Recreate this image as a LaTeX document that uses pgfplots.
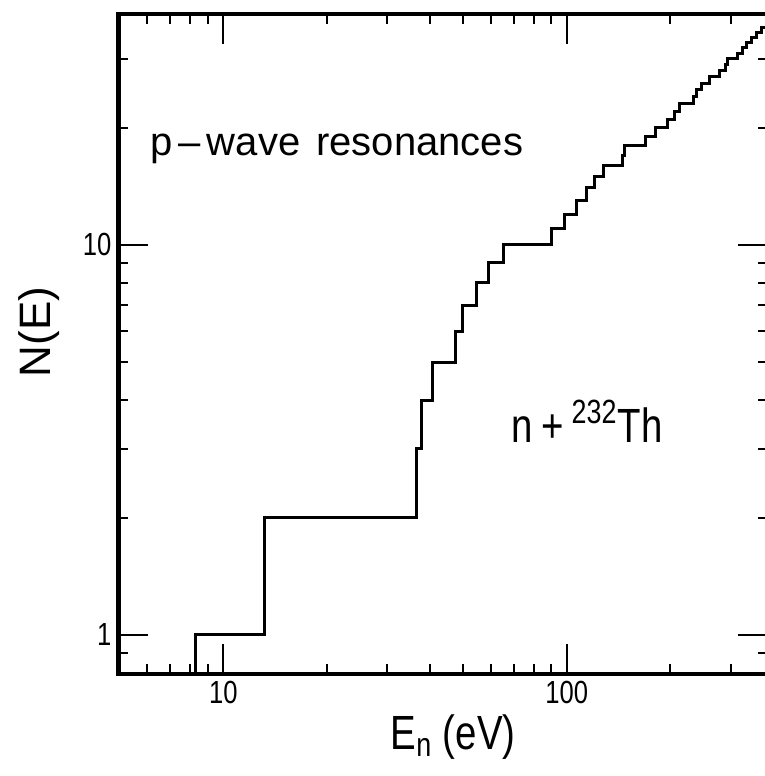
\documentclass[border=0pt]{standalone}
\usepackage{fontspec}
\setmainfont{Liberation Sans}
\newfontfamily\nf[FakeStretch=0.8]{Liberation Sans}
\usepackage{pgfplots}
\pgfplotsset{compat=1.18}
\usetikzlibrary{calc}
\begin{document}
\begin{tikzpicture}
\useasboundingbox (-59.25pt,-51pt) rectangle (323.25pt,337pt);
\begin{axis}[
  xmode=log, ymode=log,
  scale only axis, width=324.5pt, height=330pt,
  xmin=4.95, xmax=384, ymin=0.794, ymax=39.1,
  axis line style={line width=2.2pt},
  xtick={10,100}, xticklabels={10,100},
  ytick={1,10}, yticklabels={1,10},
  minor xtick={6,7,8,9,20,30,40,50,60,70,80,90,200,300},
  minor ytick={0.9,2,3,4,5,6,7,8,9,20,30},
  tick style={line width=1pt, black},
  major tick length=15pt, minor tick length=5pt,
  tick align=inside,
  ticklabel style={font=\nf\fontsize{16}{16}\selectfont},
  /pgf/number format/assume math mode=true,
  clip=true,
]
\addplot[const plot, line width=1.5pt, black] coordinates {
(8.27,0.5) (8.27,1) (13.2,2) (36.5,3) (37.8,4) (40.7,5) (47.3,6) (49.7,7)
(54.6,8) (59.0,9) (65.3,10) (90.5,11) (98.7,12) (106.8,13) (114.2,14)
(120.7,15) (128,16) (145,17) (147,18) (169,19) (181,20) (197,21) (206,22)
(213,23) (233,24) (239,25) (247,26) (261,27) (279,28) (289,29) (294,30)
(313,31) (325,32) (333,33) (345,34) (357,35) (369,36) (384,36)
};
\node[anchor=base west, font=\fontsize{20}{20}\selectfont, inner sep=0pt]
  at (rel axis cs:0.0487,0.786) {p\hspace{3pt}--\hspace{3pt}wave\hspace{8pt}resonances};
\node[anchor=base west, font=\nf\fontsize{24}{24}\selectfont, inner sep=0pt]
  at (rel axis cs:0.6056,0.3515) {n\,+\,\textsuperscript{232}Th};
\end{axis}
\node[rotate=90, font=\fontsize{22}{22}\selectfont] at (-39.75pt,170.9pt) {N(E)};
\node[font=\nf\fontsize{24}{24}\selectfont] at (167.3pt,-31.5pt) {E\textsubscript{n} (eV)};
\end{tikzpicture}
\end{document}
